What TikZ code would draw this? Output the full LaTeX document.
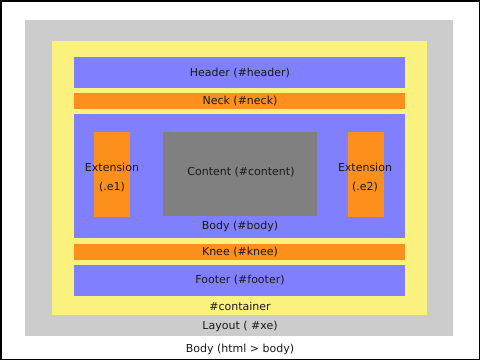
\documentclass[tikz,border=0pt]{standalone}
\usepackage{fontspec}
\setmainfont{DejaVu Sans}
\definecolor{lgray}{HTML}{CCCCCC}
\definecolor{lyellow}{HTML}{FBF17E}
\definecolor{lblue}{HTML}{8080FF}
\definecolor{lorange}{HTML}{FD8F1D}
\definecolor{dgray}{HTML}{808080}
\definecolor{txt}{HTML}{1A1A1A}
\begin{document}
\begin{tikzpicture}[x=1pt,y=-1pt,
  box/.style={fill=#1,draw=none},
  lbl/.style={font=\fontsize{11}{13}\selectfont,text=txt,inner sep=0pt,align=center}]
\useasboundingbox (0,0) rectangle (480,360);
\fill[white] (0,0) rectangle (480,360);
\draw[line width=1.5pt] (0.75,0.75) rectangle (479.25,359.25);
\path[box=lgray] (25,20) rectangle (453,336);
\path[box=lyellow] (52,41) rectangle (427,315);
\path[box=lblue] (74,57) rectangle (405,88);
\path[box=lorange] (74,93) rectangle (405,109);
\path[box=lblue] (74,114) rectangle (405,238);
\path[box=lorange] (94,132) rectangle (130,217);
\path[box=dgray] (163,132) rectangle (317,216);
\path[box=lorange] (348,132) rectangle (384,217);
\path[box=lorange] (74,244) rectangle (405,260);
\path[box=lblue] (74,265) rectangle (405,296);
\node[lbl] (header) at (240,73) {Header (\#header)};
\node[lbl] (neck) at (240,101) {Neck (\#neck)};
\node[lbl] (e1) at (112,177.5) {Extension\\[6pt](.e1)};
\node[lbl] (e2) at (365,177.5) {Extension\\[6pt](.e2)};
\node[lbl] (content) at (241,172) {Content (\#content)};
\node[lbl] (body) at (240,226) {Body (\#body)};
\node[lbl] (knee) at (240,252) {Knee (\#knee)};
\node[lbl] (footer) at (240,280) {Footer (\#footer)};
\node[lbl] (container) at (240,306) {\#container};
\node[lbl] (layout) at (240,326) {Layout ( \#xe)};
\node[lbl] (htmlbody) at (240,349) {Body (html > body)};
\end{tikzpicture}
\end{document}
